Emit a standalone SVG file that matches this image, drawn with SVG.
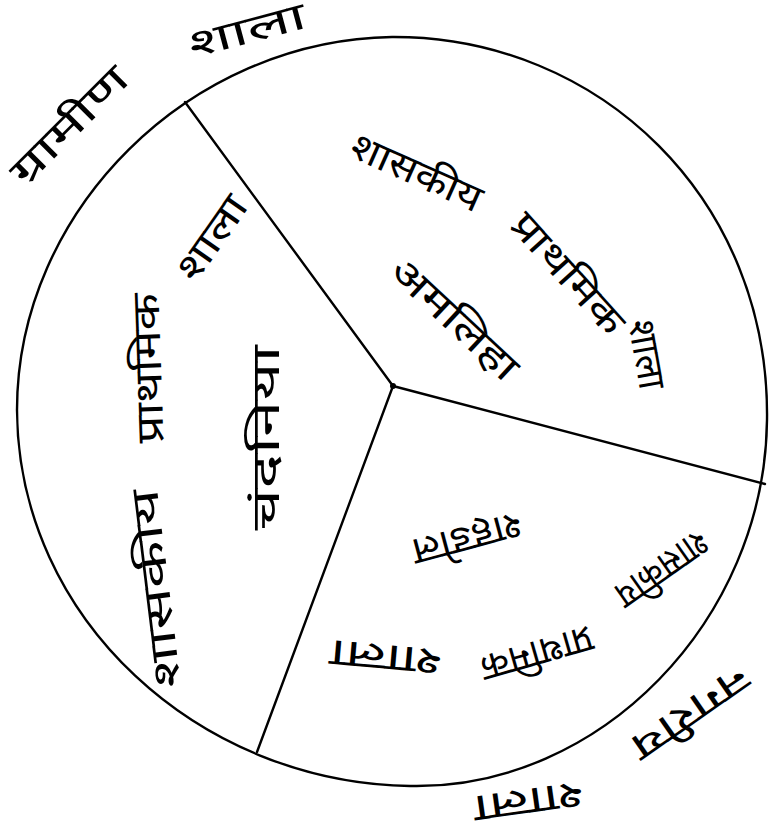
<svg xmlns="http://www.w3.org/2000/svg" width="777" height="832" viewBox="0 0 777 832">
<style>
.ln{fill:none;stroke:#000;stroke-width:2.4;stroke-linecap:round;stroke-linejoin:round}
.t{font-family:"Noto Sans Devanagari","Noto Sans","Lohit Devanagari","Mangal",sans-serif;font-size:38px;fill:#000;text-anchor:middle;dominant-baseline:central}
</style>
<rect width="777" height="832" fill="#fff"/>
<g id="chart">
<path class="ln" d="M392,37 C600,36 770,200 767,420 C765,620 600,790 410,786 C200,783 18,620 17,410 C17,210 190,40 392,37 Z"/>
<g id="dividers">
<line class="ln" x1="393" y1="386" x2="185" y2="102"/>
<line class="ln" x1="393" y1="386" x2="765" y2="484"/>
<line class="ln" x1="393" y1="386" x2="257" y2="752"/>
<circle cx="393" cy="386" r="3" fill="#000"/>
</g>
</g>
<g id="outer-top">
<text class="t" transform="translate(72,128) rotate(-45)" textLength="150" lengthAdjust="spacingAndGlyphs">ग्रामीण</text>
<text class="t" transform="translate(248,34) rotate(-15)" textLength="120" lengthAdjust="spacingAndGlyphs">शाला</text>
</g>
<g id="sector-upper-right">
<text class="t" transform="translate(415,176) rotate(24)" textLength="140" lengthAdjust="spacingAndGlyphs">शासकीय</text>
<text class="t" transform="translate(565,276) rotate(48)" textLength="150" lengthAdjust="spacingAndGlyphs">प्राथमिक</text>
<text class="t" transform="translate(643,355) rotate(80)" textLength="70" lengthAdjust="spacingAndGlyphs">शाला</text>
<text class="t" transform="translate(452,322) rotate(43)" textLength="160" lengthAdjust="spacingAndGlyphs">अमलिहा</text>
</g>
<g id="sector-left">
<text class="t" transform="translate(160,588) rotate(-97)" textLength="200" lengthAdjust="spacingAndGlyphs">शासकीय</text>
<text class="t" transform="translate(152,368) rotate(-92)" textLength="150" lengthAdjust="spacingAndGlyphs">प्राथमिक</text>
<text class="t" transform="translate(215,240) rotate(-55)" textLength="95" lengthAdjust="spacingAndGlyphs">शाला</text>
<text class="t" transform="translate(270,438) rotate(-90)" textLength="185" lengthAdjust="spacingAndGlyphs">चंदनिया</text>
</g>
<g id="sector-bottom-right">
<text class="t" transform="translate(660,566) rotate(145)" textLength="105" lengthAdjust="spacingAndGlyphs">शासकीय</text>
<text class="t" transform="translate(536,650) rotate(164)" textLength="115" lengthAdjust="spacingAndGlyphs">प्राथमिक</text>
<text class="t" transform="translate(386,654) rotate(185)" textLength="112" lengthAdjust="spacingAndGlyphs">शाला</text>
<text class="t" transform="translate(466,535) rotate(165)" textLength="112" lengthAdjust="spacingAndGlyphs">शहडोल</text>
</g>
<g id="outer-bottom">
<text class="t" transform="translate(688,710) rotate(145)" textLength="135" lengthAdjust="spacingAndGlyphs">नगरीय</text>
<text class="t" transform="translate(528,798) rotate(172)" textLength="110" lengthAdjust="spacingAndGlyphs">शाला</text>
</g>
</svg>
